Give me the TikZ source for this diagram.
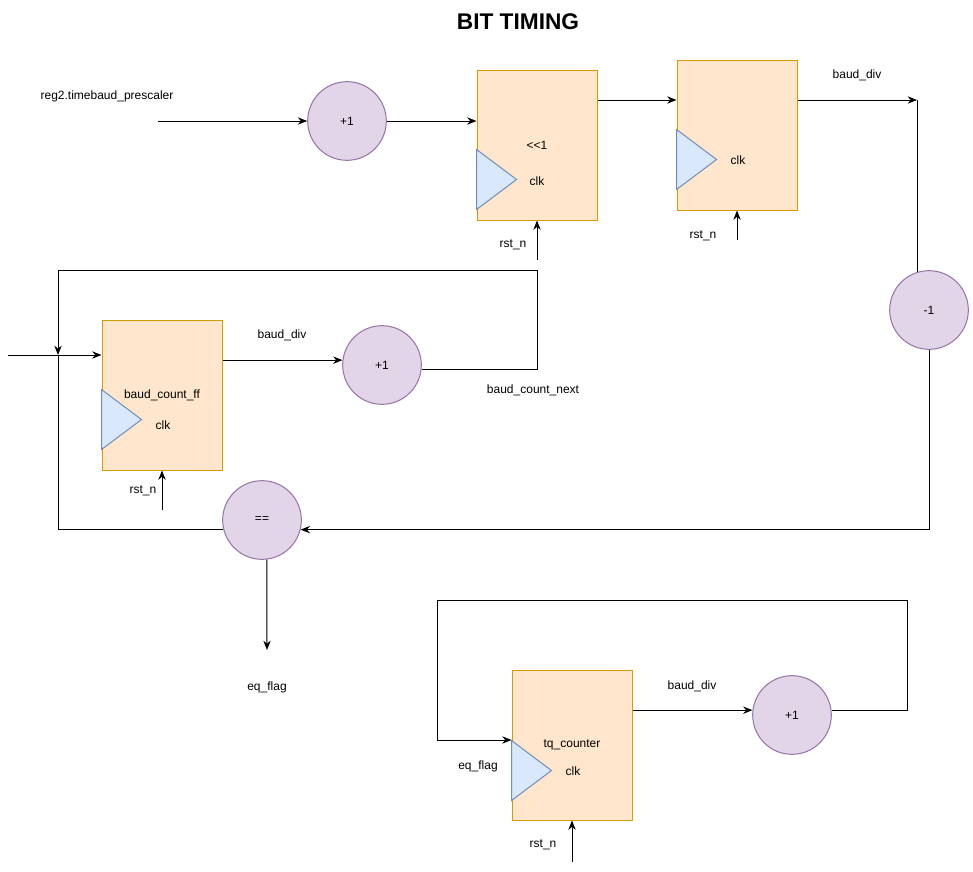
\documentclass[tikz,border=0pt]{standalone}
\usepackage{fontspec}
\setmainfont{Liberation Sans}
\usetikzlibrary{arrows.meta}

\definecolor{regfill}{HTML}{FFE6CC}
\definecolor{regline}{HTML}{D79B00}
\definecolor{opfill}{HTML}{E1D5E7}
\definecolor{opline}{HTML}{9673A6}
\definecolor{clkfill}{HTML}{DAE8FC}
\definecolor{clkline}{HTML}{6C8EBF}

\begin{document}
\begin{tikzpicture}[x=0.75pt,y=-0.75pt,font=\fontsize{9}{11}\selectfont,
    line width=0.75pt,>={Stealth[length=7pt,width=5.5pt]},
    reg/.style={draw=regline,fill=regfill,minimum width=90pt,minimum height=112.5pt,inner sep=0pt},
    op/.style={circle,draw=opline,fill=opfill,minimum size=59pt,inner sep=0pt},
    clkmark/.style={draw=clkline,fill=clkfill}]
    \useasboundingbox (0,0) rectangle (973,871);
    \node[font=\bfseries\fontsize{17}{20}\selectfont] at (518,22) (title) {BIT TIMING};

    \node[reg] at (537,145) (sh) {{<}{<}1};
    \node[reg] at (737,135) (bd) {};
    \node[reg] at (162,395) (cnt) {baud\_count\_ff};
    \node[reg] at (572,745) (tq) {tq\_counter};
    \node[op] at (347,121) (inc1) {+1};
    \node[op] at (929,310) (dec) {-1};
    \node[op] at (382,365) (inc2) {+1};
    \node[op] at (262,520) (cmp) {==};
    \node[op] at (792,715) (inc3) {+1};

    \foreach \r/\o in {sh/80,bd/70,cnt/70,tq/71}
        \draw[clkmark] (\r.north west) ++(0,\o) -- ++(40,30) -- ++(-40,30) -- cycle;
    \node at (537,181) (clk1) {clk};
    \node at (738,160) (clk2) {clk};
    \node at (163,425) (clk3) {clk};
    \node at (573,771) (clk4) {clk};

    \node at (107,96) (prescaler) {reg2.timebaud\_prescaler};
    \node at (857,75) (divA) {baud\_div};
    \node at (282,335) (divB) {baud\_div};
    \node at (692,686) (divC) {baud\_div};
    \node at (533,390) (next) {baud\_count\_next};
    \node at (267,687) (eqA) {eq\_flag};
    \node at (478,766) (eqB) {eq\_flag};
    \node at (513,245) (rstA) {rst\_n};
    \node at (703,236) (rstB) {rst\_n};
    \node at (143,491) (rstC) {rst\_n};
    \node at (543,845) (rstD) {rst\_n};

    \coordinate (preIn) at (158,121);
    \coordinate (divTop) at (917,100);
    \coordinate (eqEnd) at (267,650);
    \coordinate (join) at (58,355);
    \coordinate (loopR) at (537,270);
    \coordinate (inL) at (8,355);
    \coordinate (tqTR) at (907,600);
    \coordinate (tqL) at (437,740);
    \coordinate (rst1) at (537,260);
    \coordinate (rst2) at (737,240);
    \coordinate (rst3) at (162,510);
    \coordinate (rst4) at (572,862);

    \draw[->] (preIn) -- (inc1);
    \draw[->] (inc1) -- (inc1 -| sh.west);
    \draw[->] (sh.east |- 0,100) -- (bd.west |- 0,100);
    \draw[->] (bd.east |- divTop) -- (divTop);
    \draw (divTop) -- (divTop |- dec.107);
    \draw[->] (dec.south) |- (cmp.-14);
    \draw[->] (cmp.-83) -- (eqEnd);
    \draw (cmp.194) -| (join);
    \draw[->] (inc2.-7) -| (loopR) -| (join);
    \draw[->] (inL) -- (cnt.west |- join);
    \draw[->] (cnt.east |- inc2.173) -- (inc2.173);
    \draw[->] (tq.east |- inc3.173) -- (inc3.173);
    \draw[->] (inc3.7) -| (tqTR) -| (tqL) -- (tq.west |- tqL);
    \draw[->] (rst1) -- (sh.south);
    \draw[->] (rst2) -- (bd.south);
    \draw[->] (rst3) -- (cnt.south);
    \draw[->] (rst4) -- (tq.south);
\end{tikzpicture}
\end{document}
